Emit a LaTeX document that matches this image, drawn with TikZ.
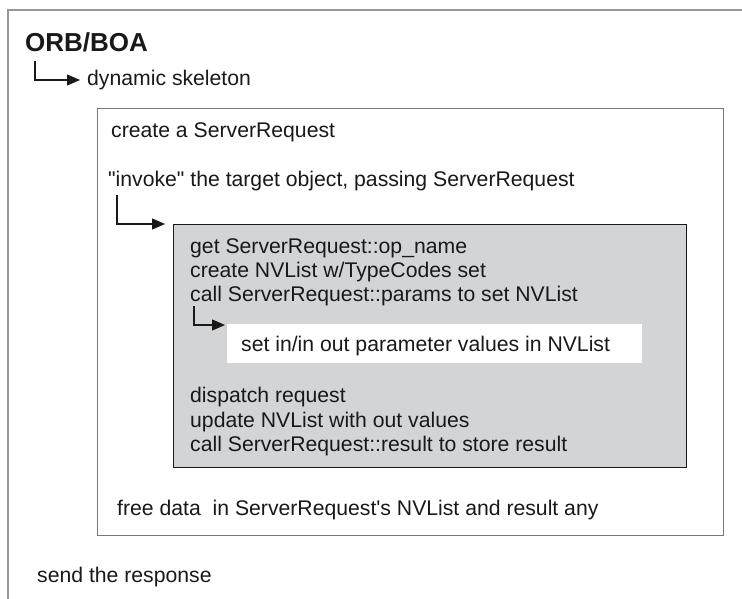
\documentclass[tikz,border=0pt]{standalone}
\usepackage{fontspec}
\setmainfont{Liberation Sans}
\usetikzlibrary{arrows.meta}
\definecolor{framegray}{RGB}{150,150,150}
\definecolor{boxgray}{RGB}{120,120,120}
\definecolor{shade}{RGB}{211,212,214}
\definecolor{ink}{RGB}{25,25,25}
\tikzset{
  txt/.style={anchor=base west, inner sep=0pt, text=ink, font=\fontsize{21.2}{24}\selectfont},
  title/.style={anchor=base west, inner sep=0pt, text=ink, font=\fontsize{26}{30}\selectfont\bfseries},
  flow/.style={draw=ink, line width=1.1pt, -{Triangle[length=13pt,width=11pt]}},
  outerframe/.style={draw=framegray, line width=2pt},
  midbox/.style={draw=boxgray, line width=1.2pt, fill=white, anchor=north west, inner sep=0pt},
  greybox/.style={draw=ink, line width=1.3pt, fill=shade, anchor=north west, inner sep=0pt},
  whitebox/.style={fill=white, anchor=north west, inner sep=0pt},
}
\begin{document}
\begin{tikzpicture}[x=1pt, y=-1pt]
\useasboundingbox (0,0) rectangle (742,599);

% open frame of the ORB/BOA region
\coordinate (fb) at (8,600);
\coordinate (ftl) at (8,10);
\coordinate (fr) at (743,10);
\draw[outerframe] (fb) -- (ftl) -- (fr);

\node[title] (orb) at (25,52) {ORB/BOA};
\node[txt] (dyn) at (87,86) {dynamic skeleton};

% dynamic skeleton box
\node[midbox, minimum width=626pt, minimum height=427pt] (skel) at (97,108) {};
\node[txt] (create) at (111,138) {create a ServerRequest};
\node[txt] (invoke) at (108,186) {\textquotedbl invoke\textquotedbl\ the target object, passing ServerRequest};

% target object box
\node[greybox, minimum width=513pt, minimum height=243pt] (target) at (173,224) {};
\node[txt] (l1) at (190,253) {get ServerRequest::op\_name};
\node[txt] (l2) at (190,277) {create NVList w/TypeCodes set};
\node[txt] (l3) at (190,301) {call ServerRequest::params to set NVList};

\node[whitebox, minimum width=415pt, minimum height=39pt] (setbox) at (227,324) {};
\node[txt] (setv) at (241,351) {set in/in out parameter values in NVList};

\node[txt] (l4) at (190,402) {dispatch request};
\node[txt] (l5) at (190,427) {update NVList with out values};
\node[txt] (l6) at (190,451) {call ServerRequest::result to store result};

\node[txt] (free) at (117,515) {free data\ \ in ServerRequest\textquotesingle s NVList and result any};
\node[txt] (send) at (37,582) {send the response};

% elbow connectors
\coordinate (a1s) at (35,61);
\coordinate (a1e) at (80,80);
\draw[flow] (a1s) |- (a1e);
\coordinate (a2s) at (117,195);
\coordinate (a2e) at (165,224);
\draw[flow] (a2s) |- (a2e);
\coordinate (a3s) at (194,306);
\coordinate (a3e) at (225,325);
\draw[flow] (a3s) |- (a3e);
\end{tikzpicture}
\end{document}
